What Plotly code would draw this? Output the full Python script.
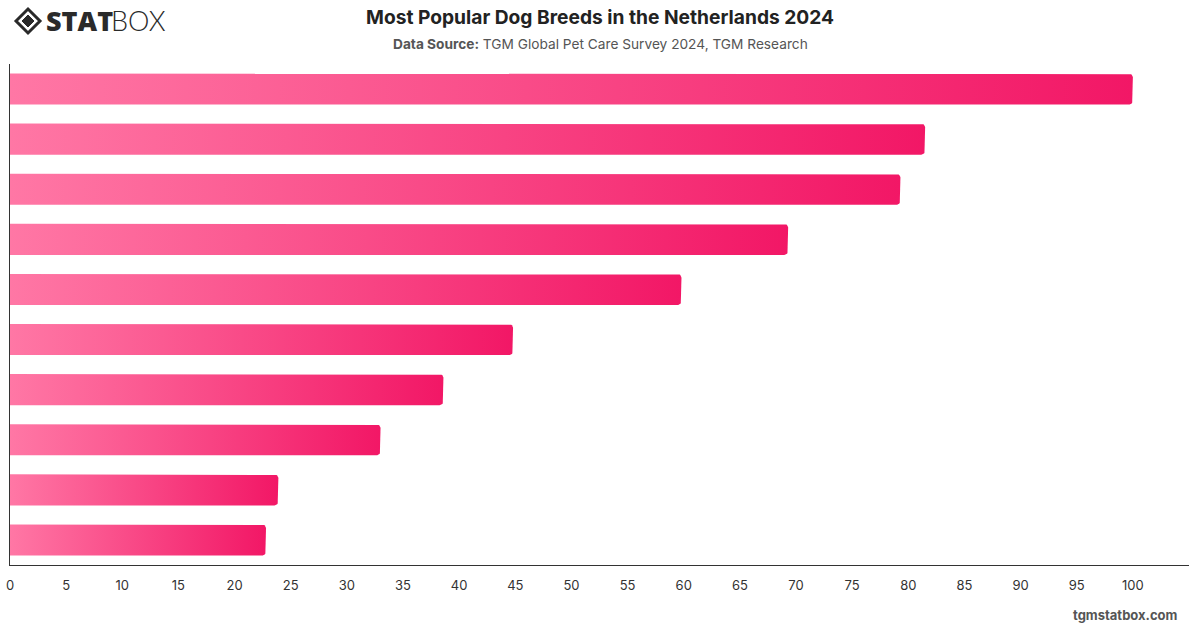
import math
import plotly.graph_objects as go

# Data (breed names are not shown in the chart)
ranks = ["1", "2", "3", "4", "5", "6", "7", "8", "9", "10"]
values = [100, 81.5, 79.3, 69.3, 59.8, 44.8, 38.6, 33.0, 23.9, 22.8]
x_ticks = list(range(0, 101, 5))

TITLE = "Most Popular Dog Breeds in the Netherlands 2024"
SUBTITLE = "<b>Data Source:</b> TGM Global Pet Care Survey 2024, TGM Research"

X_MAX = 105
PLOT_W = 1179
PLOT_H = 501
N = len(values)
HALF = 0.31
C_LIGHT = "#ff77a5"
C_DARK = "#f21766"


def bar_outline(v, c, rpx=4):
    rx = rpx * X_MAX / PLOT_W
    ry = rpx * N / PLOT_H
    xs, ys = [0, v - rx], [c - HALF, c - HALF]
    for k in range(9):
        a = -math.pi / 2 + k * (math.pi / 2) / 8
        xs.append(v - rx + rx * math.cos(a))
        ys.append(c - HALF + ry + ry * math.sin(a))
    for k in range(9):
        a = k * (math.pi / 2) / 8
        xs.append(v - rx + rx * math.cos(a))
        ys.append(c + HALF - ry + ry * math.sin(a))
    xs += [0, 0]
    ys += [c + HALF, c - HALF]
    return xs, ys


fig = go.Figure()
for i, (r, v) in enumerate(zip(ranks, values)):
    xs, ys = bar_outline(v, i)
    fig.add_trace(go.Scatter(
        x=xs, y=ys, mode="lines", fill="toself",
        line=dict(width=0, color="rgba(0,0,0,0)"),
        fillgradient=dict(type="horizontal",
                          colorscale=[[0, C_LIGHT], [1, C_DARK]]),
        name=r, hoverinfo="skip", showlegend=False,
    ))


def px_x(px):
    return (px - 10) / PLOT_W


def px_y(py):
    return (628 - 63 - py) / PLOT_H


fig.update_layout(
    width=1200, height=628,
    margin=dict(l=10, r=11, t=64, b=63, autoexpand=False),
    paper_bgcolor="white", plot_bgcolor="white",
    font=dict(family="Inter, Roboto, sans-serif", color="#333"),
    xaxis=dict(range=[0, X_MAX], tickvals=x_ticks, showgrid=False,
               zeroline=False, showline=True, linecolor="#333", linewidth=1,
               ticks="", tickfont=dict(size=13, color="#333"),
               ticklabelstandoff=8, automargin=False),
    yaxis=dict(range=[N - 0.5, -0.5], showgrid=False, zeroline=False,
               showline=True, linecolor="#333", linewidth=1,
               showticklabels=False, ticks="", automargin=False),
    annotations=[
        dict(text="<b>" + TITLE + "</b>", x=px_x(600), y=px_y(17),
             xref="paper", yref="paper", xanchor="center", yanchor="middle",
             showarrow=False, font=dict(size=19.2, color="#222")),
        dict(text=SUBTITLE, x=px_x(600), y=px_y(44),
             xref="paper", yref="paper", xanchor="center", yanchor="middle",
             showarrow=False, font=dict(size=13.7, color="#555")),
        dict(text="<b>tgmstatbox.com</b>", x=px_x(1180), y=px_y(615),
             xref="paper", yref="paper", xanchor="right", yanchor="middle",
             showarrow=False, font=dict(size=13, color="#555")),
        dict(text="STAT", x=px_x(44), y=px_y(21),
             xref="paper", yref="paper", xanchor="left", yanchor="middle",
             showarrow=False,
             font=dict(size=27, color="#2a2a2a", family="Open Sans, sans-serif",
                       weight=800)),
        dict(text="BOX", x=px_x(109), y=px_y(21),
             xref="paper", yref="paper", xanchor="left", yanchor="middle",
             showarrow=False,
             font=dict(size=27, color="#2a2a2a", family="Lato, sans-serif",
                       weight=300)),
    ],
)

# logo diamond icon
cx, cy = px_x(28), px_y(21)
dx, dy = 12 / PLOT_W, 12 / PLOT_H
fig.add_shape(type="path", xref="paper", yref="paper",
              path=f"M {cx-dx} {cy} L {cx} {cy+dy} L {cx+dx} {cy} L {cx} {cy-dy} Z",
              line=dict(color="#2a2a2a", width=3), fillcolor="white")
dx2, dy2 = 6 / PLOT_W, 6 / PLOT_H
fig.add_shape(type="path", xref="paper", yref="paper",
              path=f"M {cx-dx2} {cy} L {cx} {cy+dy2} L {cx+dx2} {cy} L {cx} {cy-dy2} Z",
              line=dict(color="#2a2a2a", width=1), fillcolor="#2a2a2a")

fig.write_html("out.html")
